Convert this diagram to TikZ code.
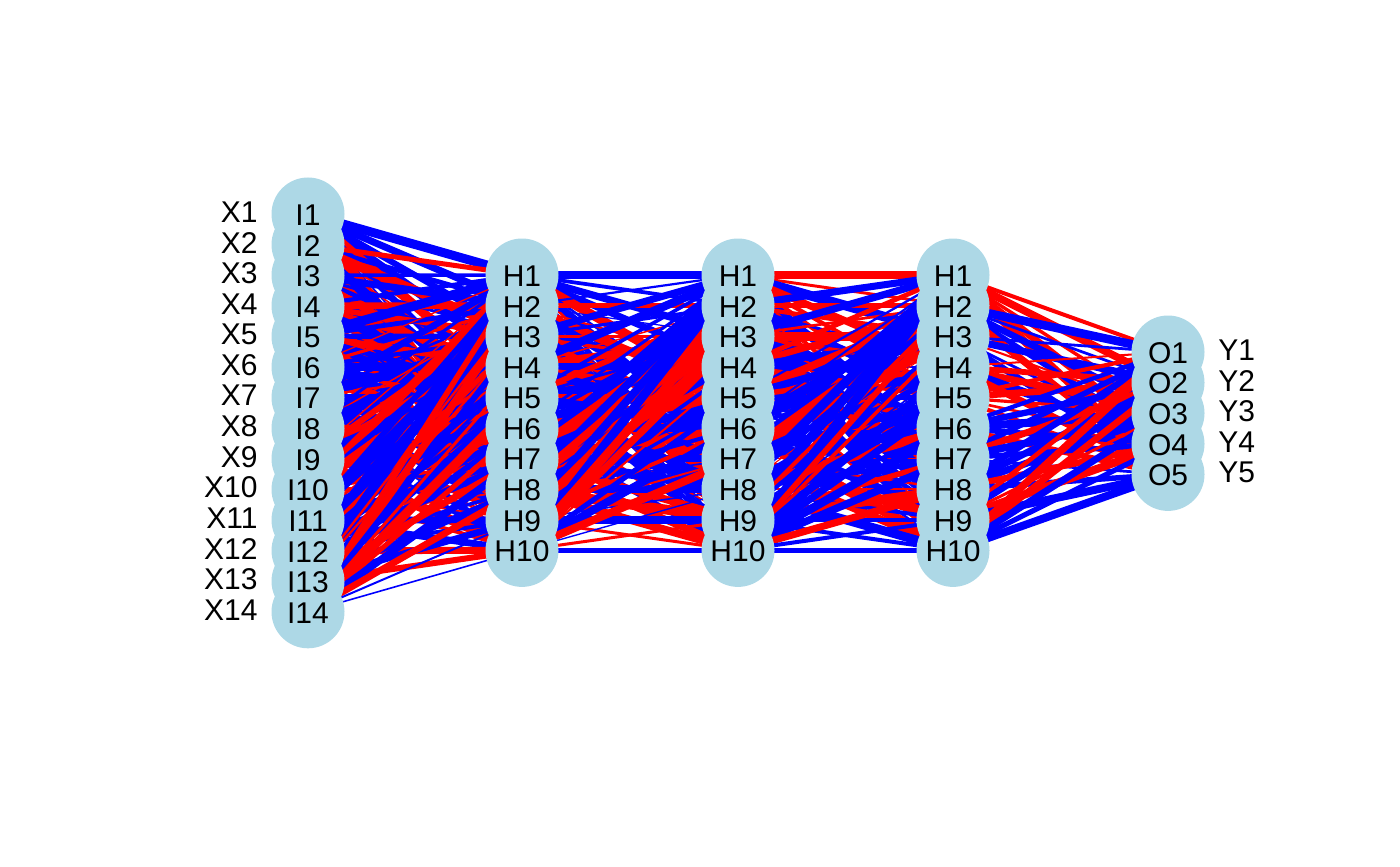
\documentclass[tikz,border=0pt]{standalone}
\usepackage{fontspec}
\setmainfont{Liberation Sans}
\definecolor{nodeblue}{RGB}{173,216,230}
\definecolor{pr}{RGB}{255,0,0}
\definecolor{pb}{RGB}{0,0,255}
\tikzset{
  neuron/.style={circle,fill=nodeblue,draw=none,minimum size=36.5pt,inner sep=0pt},
  lbl/.style={font=\fontsize{15}{18}\selectfont,inner sep=0pt},
  edge/.style={line cap=butt}
}
\def\setov#1#2{\expandafter\def\csname ov#1\endcsname{#2}}
\def\parseov#1/#2\relax{\def\c{#1}\def\w{#2}}
% salient connectors
\setov{A-1-1}{pb/4.5}\setov{A-1-2}{pb/3.5}\setov{A-1-3}{pb/3}\setov{A-2-1}{pr/2.5}
\setov{A-14-10}{pb/0.8}\setov{A-14-9}{pb/1}\setov{A-13-10}{pr/3}\setov{A-12-10}{pr/3.5}
\setov{B-1-1}{pb/4}\setov{B-10-10}{pb/2.5}\setov{B-10-9}{pr/1.5}\setov{B-9-10}{pr/1.5}
\setov{B-10-1}{pb/4.5}\setov{B-9-1}{pb/4}\setov{B-8-1}{pb/4}
\setov{C-1-1}{pr/4}\setov{C-10-10}{pb/2.5}\setov{C-10-9}{pb/2}\setov{C-9-10}{pb/2}
\setov{C-10-1}{pb/4.5}\setov{C-9-1}{pb/4.5}\setov{C-8-1}{pb/4.5}\setov{C-7-1}{pb/4}
\setov{D-1-1}{pr/2}\setov{D-1-5}{pr/4}\setov{D-10-5}{pb/4}\setov{D-9-5}{pb/4}
\begin{document}
\begin{tikzpicture}[x=0.5pt,y=-0.5pt]
\useasboundingbox (0,0) rectangle (1400,866);
% positions
\foreach \i in {1,...,14}{\coordinate (I\i) at (308,{214+(\i-1)*30.6});}
\foreach \j in {1,...,10}{
  \coordinate (A\j) at (522,{275+(\j-1)*30.6});
  \coordinate (B\j) at (738,{275+(\j-1)*30.6});
  \coordinate (C\j) at (953,{275+(\j-1)*30.6});}
\foreach \k in {1,...,5}{\coordinate (O\k) at (1168,{352+(\k-1)*30.6});}
\pgfmathsetseed{4711}
% input -> hidden 1
\foreach \i in {1,...,14}{\foreach \j in {1,...,10}{
  \pgfmathsetmacro\r{rnd}\pgfmathsetmacro\w{0.5+4.5*rnd}
  \ifdim\r pt<0.5pt\def\c{pr}\else\def\c{pb}\fi
  \ifcsname ovA-\i-\j\endcsname\edef\tmp{\csname ovA-\i-\j\endcsname}\expandafter\parseov\tmp\relax\fi
  \draw[edge,\c,line width=\w pt] (I\i) -- (A\j);}}
% hidden 1 -> hidden 2
\foreach \i in {1,...,10}{\foreach \j in {1,...,10}{
  \pgfmathsetmacro\r{rnd}\pgfmathsetmacro\w{0.5+4.5*rnd}
  \ifdim\r pt<0.5pt\def\c{pr}\else\def\c{pb}\fi
  \ifcsname ovB-\i-\j\endcsname\edef\tmp{\csname ovB-\i-\j\endcsname}\expandafter\parseov\tmp\relax\fi
  \draw[edge,\c,line width=\w pt] (A\i) -- (B\j);}}
% hidden 2 -> hidden 3
\foreach \i in {1,...,10}{\foreach \j in {1,...,10}{
  \pgfmathsetmacro\r{rnd}\pgfmathsetmacro\w{0.5+4.5*rnd}
  \ifdim\r pt<0.5pt\def\c{pr}\else\def\c{pb}\fi
  \ifcsname ovC-\i-\j\endcsname\edef\tmp{\csname ovC-\i-\j\endcsname}\expandafter\parseov\tmp\relax\fi
  \draw[edge,\c,line width=\w pt] (B\i) -- (C\j);}}
% hidden 3 -> output
\foreach \i in {1,...,10}{\foreach \j in {1,...,5}{
  \pgfmathsetmacro\w{0.8+3.5*rnd}
  \pgfmathsetmacro\c{{"pr","pr","pr","pr","pr",
                      "pb","pb","pb","pb","pr",
                      "pb","pb","pr","pb","pb",
                      "pr","pr","pr","pb","pr",
                      "pr","pr","pr","pr","pr",
                      "pb","pb","pb","pb","pr",
                      "pb","pr","pb","pb","pb",
                      "pb","pb","pb","pr","pb",
                      "pr","pb","pr","pr","pb",
                      "pr","pr","pb","pb","pb"}[(\i-1)*5+\j-1]}
  \ifcsname ovD-\i-\j\endcsname\edef\tmp{\csname ovD-\i-\j\endcsname}\expandafter\parseov\tmp\relax\fi
  \draw[edge,\c,line width=\w pt] (C\i) -- (O\j);}}
% neurons
\foreach \i in {1,...,14}{\node[neuron] (nI\i) at (I\i) {};}
\foreach \j in {1,...,10}{
  \node[neuron] (nA\j) at (A\j) {};
  \node[neuron] (nB\j) at (B\j) {};
  \node[neuron] (nC\j) at (C\j) {};}
\foreach \k in {1,...,5}{\node[neuron] (nO\k) at (O\k) {};}
% labels
\foreach \i in {1,...,14}{
  \node[lbl] (tI\i) at ([yshift=-0.5pt]I\i) {I\i};
  \node[lbl,anchor=east] (tX\i) at ([yshift=1pt]258,{214+(\i-1)*30.6}) {X\i};}
\foreach \j in {1,...,10}{
  \node[lbl] (tA\j) at ([yshift=-0.5pt]A\j) {H\j};
  \node[lbl] (tB\j) at ([yshift=-0.5pt]B\j) {H\j};
  \node[lbl] (tC\j) at ([yshift=-0.5pt]C\j) {H\j};}
\foreach \k in {1,...,5}{
  \node[lbl] (tO\k) at ([yshift=-0.5pt]O\k) {O\k};
  \node[lbl,anchor=west] (tY\k) at ([yshift=1pt]1218,{352+(\k-1)*30.6}) {Y\k};}
\end{tikzpicture}
\end{document}
